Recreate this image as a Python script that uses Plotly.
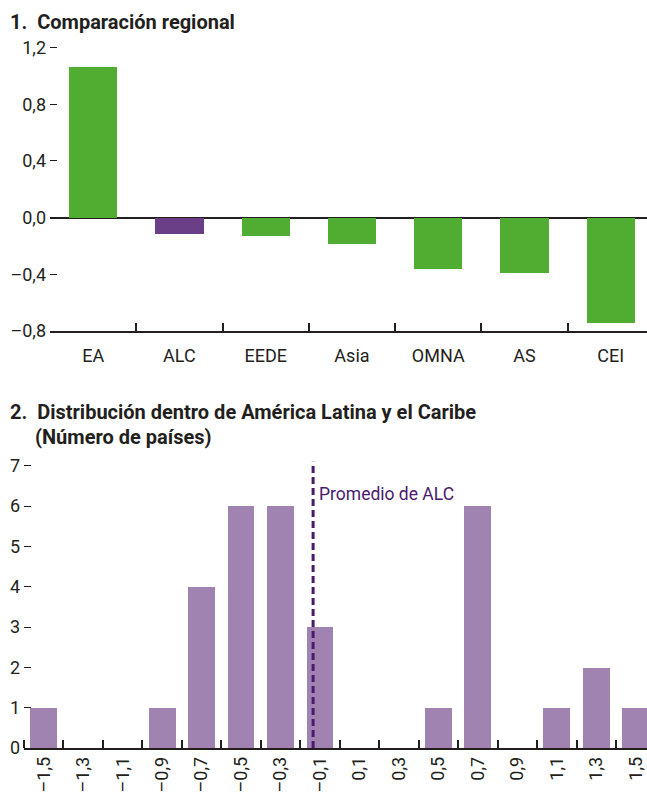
import plotly.graph_objects as go

# Panel 1: regional comparison
regions = ["EA", "ALC", "EEDE", "Asia", "OMNA", "AS", "CEI"]
region_values = [1.07, -0.11, -0.125, -0.18, -0.36, -0.39, -0.74]
y1_ticks = [-0.8, -0.4, 0.0, 0.4, 0.8, 1.2]
y1_labels = ["–0,8", "–0,4", "0,0", "0,4", "0,8", "1,2"]

# Panel 2: distribution within LAC (number of countries)
bins = [-1.5, -1.3, -1.1, -0.9, -0.7, -0.5, -0.3, -0.1, 0.1, 0.3, 0.5, 0.7, 0.9, 1.1, 1.3, 1.5]
bin_labels = ["–1,5", "–1,3", "–1,1", "–0,9", "–0,7", "–0,5", "–0,3", "–0,1",
              "0,1", "0,3", "0,5", "0,7", "0,9", "1,1", "1,3", "1,5"]
counts = [1, 0, 0, 1, 4, 6, 6, 3, 0, 0, 1, 6, 0, 1, 2, 1]
alc_mean = -0.135

GREEN = "#50ad32"
PURPLE = "#6b3f87"
LILAC = "#a083b0"
DARK_PURPLE = "#4a1a6c"
TEXT = "#231f20"
FONT = "Roboto, Arial, sans-serif"

W, H = 647, 794


def py(px_):
    return 1 - px_ / H


fig = go.Figure()

fig.add_trace(go.Bar(
    x=regions, y=region_values,
    marker_color=[PURPLE if r == "ALC" else GREEN for r in regions],
    marker_line_width=0, width=0.56,
    xaxis="x", yaxis="y", showlegend=False,
))

fig.add_trace(go.Bar(
    x=bins, y=counts,
    marker_color=LILAC, marker_line_width=0, width=0.136,
    xaxis="x2", yaxis="y2", showlegend=False,
))

fig.add_shape(type="line", xref="x2", yref="y2",
              x0=alc_mean, x1=alc_mean, y0=0, y1=7.1,
              line=dict(color=DARK_PURPLE, width=3, dash="7px,4px"))
fig.add_annotation(x=alc_mean, y=6.3, xref="x2", yref="y2",
                   text="Promedio de ALC", showarrow=False,
                   xanchor="left", xshift=4,
                   font=dict(family=FONT, size=17.5, color=DARK_PURPLE))

title_font = dict(family=FONT, size=20, color=TEXT, weight="bold")
fig.add_annotation(x=8 / W, y=py(22), xref="paper", yref="paper",
                   text="1.  Comparación regional", showarrow=False,
                   xanchor="left", yanchor="middle", font=title_font)
fig.add_annotation(x=8 / W, y=py(412), xref="paper", yref="paper",
                   text="2.  Distribución dentro de América Latina y el Caribe",
                   showarrow=False, xanchor="left", yanchor="middle", font=title_font)
fig.add_annotation(x=33 / W, y=py(437), xref="paper", yref="paper",
                   text="(Número de países)", showarrow=False,
                   xanchor="left", yanchor="middle", font=title_font)

tick_font = dict(family=FONT, size=18, color=TEXT)

fig.update_layout(
    width=W, height=H,
    margin=dict(l=0, r=0, t=0, b=0),
    plot_bgcolor="white", paper_bgcolor="white",
    bargap=0,
    xaxis=dict(
        domain=[50 / W, 1], anchor="y",
        range=[-0.5, 6.42], type="category",
        showline=True, linecolor=TEXT, linewidth=1.5,
        ticks="inside", tickson="boundaries", ticklen=8, tickcolor=TEXT, tickwidth=1.5,
        ticklabelstandoff=8,
        tickfont=tick_font, showgrid=False, automargin=False,
    ),
    yaxis=dict(
        domain=[py(331), py(40.5)], anchor="x",
        range=[-0.8, 1.25], tickvals=y1_ticks, ticktext=y1_labels,
        ticks="inside", ticklen=7, tickcolor=TEXT, tickwidth=1.2,
        ticklabelstandoff=3,
        showline=False, showgrid=False,
        zeroline=True, zerolinecolor=TEXT, zerolinewidth=1.5,
        tickfont=tick_font, automargin=False,
    ),
    xaxis2=dict(
        domain=[24 / W, 1], anchor="y2",
        range=[-1.6, 1.557],
        tickvals=bins, ticktext=bin_labels, ticks="", tickangle=-90,
        minor=dict(tickvals=[-1.6 + 0.2 * i for i in range(16)],
                   ticks="inside", ticklen=8, tickcolor=TEXT, tickwidth=1.5),
        showline=True, linecolor=TEXT, linewidth=1.5,
        tickfont=tick_font, showgrid=False, zeroline=False, automargin=False,
    ),
    yaxis2=dict(
        domain=[py(748), py(457.8)], anchor="x2",
        range=[0, 7.2], dtick=1,
        ticks="inside", ticklen=7, tickcolor=TEXT, tickwidth=1.2,
        ticklabelstandoff=3,
        showline=False, showgrid=False, zeroline=False,
        tickfont=tick_font, automargin=False,
    ),
)

fig.write_html("out.html", config={"displayModeBar": False},
               post_script="document.body.style.margin='0';")
